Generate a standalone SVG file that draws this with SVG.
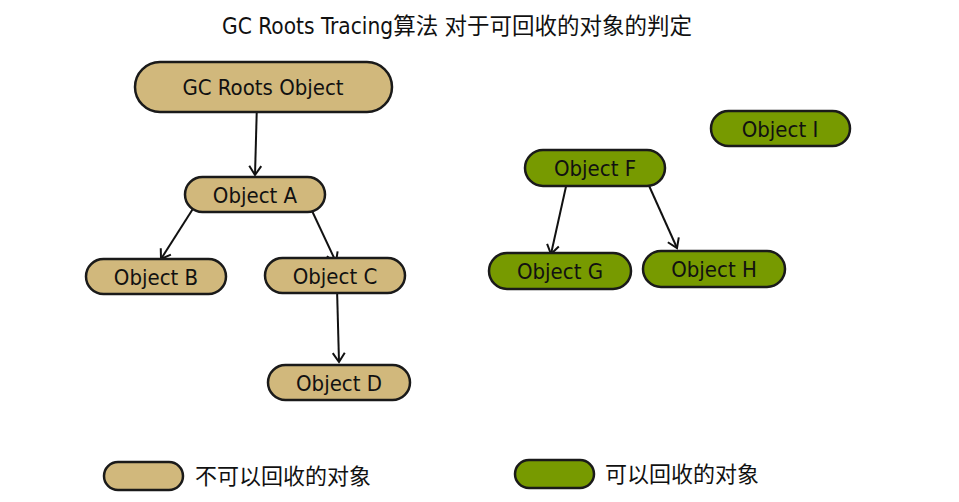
<svg xmlns="http://www.w3.org/2000/svg" width="959" height="502" viewBox="0 0 959 502">
<defs>
<marker id="arr" markerWidth="16" markerHeight="16" refX="11" refY="8" orient="auto" markerUnits="userSpaceOnUse">
<path d="M2,2 L11,8 L2,14" fill="none" stroke="#111" stroke-width="2"/>
</marker>
<style>
.tan{fill:#D1B87C;stroke:#1a1a1a;stroke-width:2.5}
.grn{fill:#779A00;stroke:#1a1a1a;stroke-width:2.5}
.lbl{font-family:"DejaVu Sans Condensed","DejaVu Sans",sans-serif;font-stretch:condensed;font-size:22px;fill:#111;text-anchor:middle}
.cjk{font-family:"DejaVu Sans Condensed","Noto Sans CJK SC",sans-serif;font-size:22px;fill:#111}
.edge{stroke:#111;stroke-width:2;fill:none;marker-end:url(#arr)}
</style>
</defs>
<rect width="959" height="502" fill="#fff"/>
<text class="cjk" x="457" y="34" text-anchor="middle" style="font-size:22.5px">GC Roots Tracing算法 对于可回收的对象的判定</text>
<g id="connectors">
<line class="edge" x1="257" y1="102" x2="255" y2="175"/>
<line class="edge" x1="196" y1="204" x2="161" y2="259"/>
<line class="edge" x1="306" y1="198" x2="336" y2="262"/>
<line class="edge" x1="337" y1="288" x2="339" y2="362"/>
<line class="edge" x1="567" y1="182" x2="551" y2="254"/>
<line class="edge" x1="646" y1="179" x2="677" y2="248"/>
</g>
<g id="gcroots"><rect class="tan" x="135" y="62" width="257" height="50" rx="25"/><text class="lbl" x="263" y="95">GC Roots Object</text></g>
<g id="objA"><rect class="tan" x="185" y="177" width="140" height="35" rx="17.5"/><text class="lbl" x="255" y="203">Object A</text></g>
<g id="objB"><rect class="tan" x="86" y="259" width="140" height="35" rx="17.5"/><text class="lbl" x="156" y="285">Object B</text></g>
<g id="objC"><rect class="tan" x="265" y="258" width="140" height="35" rx="17.5"/><text class="lbl" x="335" y="284">Object C</text></g>
<g id="objD"><rect class="tan" x="268" y="365" width="142" height="35" rx="17.5"/><text class="lbl" x="339" y="391">Object D</text></g>
<g id="objF"><rect class="grn" x="525" y="150" width="140" height="36" rx="18"/><text class="lbl" x="595" y="176">Object F</text></g>
<g id="objG"><rect class="grn" x="489" y="253" width="142" height="36" rx="18"/><text class="lbl" x="560" y="279">Object G</text></g>
<g id="objH"><rect class="grn" x="643" y="251" width="142" height="36" rx="18"/><text class="lbl" x="714" y="277">Object H</text></g>
<g id="objI"><rect class="grn" x="711" y="111" width="139" height="35" rx="17.5"/><text class="lbl" x="780" y="137">Object I</text></g>
<g id="legend-tan"><rect class="tan" x="104" y="462" width="79" height="28" rx="14"/><text class="cjk" x="195" y="484">不可以回收的对象</text></g>
<g id="legend-green"><rect class="grn" x="515" y="460" width="79" height="28" rx="14"/><text class="cjk" x="605" y="482">可以回收的对象</text></g>
</svg>
